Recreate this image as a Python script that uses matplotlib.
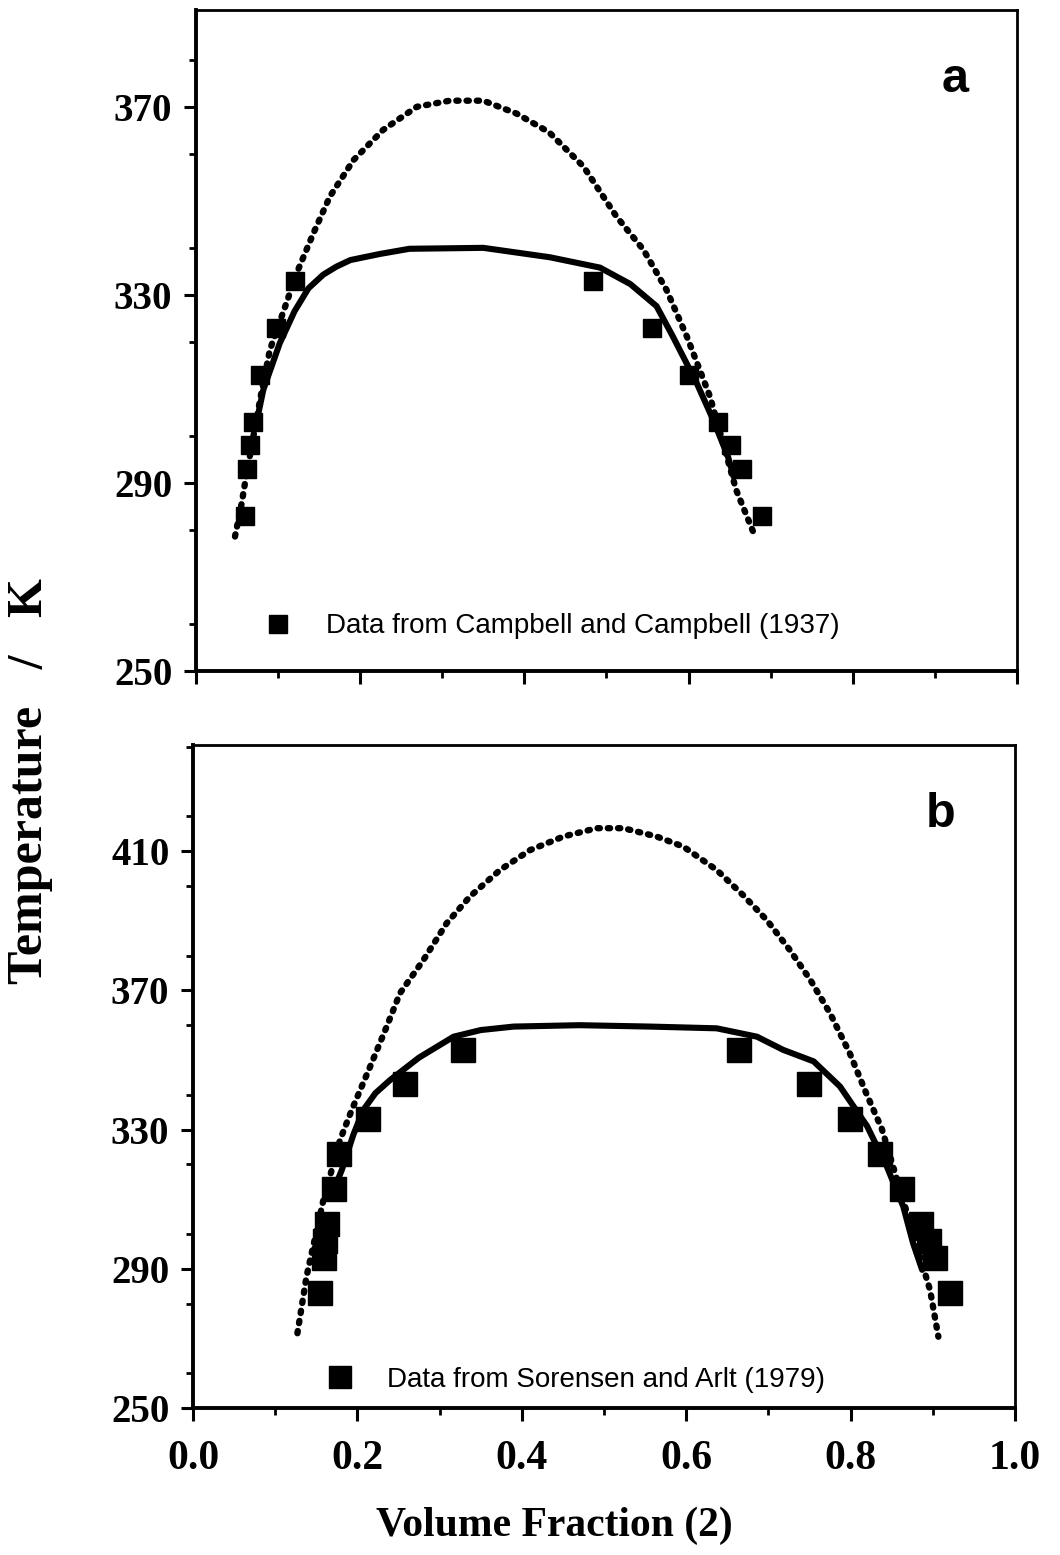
import matplotlib
matplotlib.use("Agg")
import matplotlib.pyplot as plt
from matplotlib.ticker import MultipleLocator

# -----------------------------
# data
# -----------------------------
# panel a: Campbell and Campbell (1937)
temps_a = [283, 293, 298, 303, 313, 323, 333]
phi_a_left = [0.060, 0.062, 0.066, 0.069, 0.078, 0.098, 0.121]
phi_a_right = [0.689, 0.665, 0.652, 0.636, 0.601, 0.555, 0.483]

dot_a_x = [0.0475, 0.0557, 0.0597, 0.070, 0.080, 0.090, 0.110, 0.1226, 0.143, 0.163,
           0.192, 0.228, 0.269, 0.309, 0.350, 0.390, 0.430, 0.472, 0.512, 0.545,
           0.573, 0.598, 0.626, 0.658, 0.681]
dot_a_T = [278.6, 285.7, 290.0, 300.0, 309.5, 318.3, 328.2, 334.6, 343.1, 350.9,
           358.7, 365.1, 370.0, 371.3, 371.3, 368.6, 364.6, 357.3, 346.7, 339.6,
           331.1, 321.1, 308.4, 288.5, 278.6]

sol_a_x = [0.076, 0.082, 0.102, 0.120, 0.137, 0.155, 0.171, 0.188, 0.224, 0.260,
           0.350, 0.431, 0.492, 0.529, 0.561, 0.581, 0.610, 0.630, 0.648, 0.655]
sol_a_T = [304.8, 309.8, 319.7, 326.5, 331.4, 334.3, 336.0, 337.4, 338.7, 339.8,
           340.0, 338.0, 335.8, 332.3, 327.6, 321.1, 311.2, 303.4, 295.6, 291.3]

# panel b: Sorensen and Arlt (1979)
temps_b = [283, 293, 298, 303, 313, 323, 333, 343, 353]
phi_b_left = [0.154, 0.159, 0.161, 0.163, 0.171, 0.177, 0.213, 0.258, 0.329]
phi_b_right = [0.921, 0.903, 0.895, 0.886, 0.862, 0.836, 0.799, 0.749, 0.664]

dot_b_x = [0.127, 0.138, 0.1586, 0.1788, 0.193, 0.2153, 0.2356, 0.2518, 0.2802, 0.3086,
           0.337, 0.3735, 0.410, 0.4505, 0.491, 0.5235, 0.564, 0.5965, 0.637, 0.669,
           0.698, 0.726, 0.751, 0.775, 0.799, 0.819, 0.8378, 0.8966, 0.9067]
dot_b_T = [271.5, 287.7, 309.8, 327.0, 335.6, 348.0, 359.6, 369.2, 378.7, 389.3,
           397.0, 404.6, 410.3, 414.2, 416.6, 416.6, 414.2, 411.3, 404.6, 397.4,
           390.2, 381.6, 373.0, 363.4, 351.9, 340.4, 330.3, 283.9, 270.5]

sol_b_x = [0.170, 0.181, 0.195, 0.207, 0.222, 0.240, 0.275, 0.317, 0.350, 0.390,
           0.470, 0.556, 0.637, 0.686, 0.718, 0.755, 0.787, 0.820, 0.844, 0.864,
           0.876, 0.887]
sol_b_T = [312.0, 318.4, 328.5, 335.6, 340.5, 344.3, 350.7, 356.7, 358.6, 359.6,
           360.0, 359.6, 359.1, 356.7, 352.9, 349.6, 342.4, 331.0, 319.4, 307.9,
           297.3, 289.7]

x_ticks = [0.0, 0.2, 0.4, 0.6, 0.8, 1.0]
x_tick_labels = ["0.0", "0.2", "0.4", "0.6", "0.8", "1.0"]

# -----------------------------
# figure
# -----------------------------
SERIF = "Liberation Serif"
SANS = "Liberation Sans"

fig = plt.figure(figsize=(10.6, 15.55), dpi=100)
ax_a = fig.add_axes([0.1849, 0.5685, 0.7745, 0.4251])
ax_b = fig.add_axes([0.1821, 0.0945, 0.7755, 0.4264])


def style_axes(ax, ylim, yticks, show_xlabels):
    ax.set_xlim(0, 1)
    ax.set_ylim(*ylim)
    ax.set_yticks(yticks)
    ax.yaxis.set_minor_locator(MultipleLocator(20))
    ax.set_xticks(x_ticks)
    ax.xaxis.set_minor_locator(MultipleLocator(0.1))
    for s in ax.spines.values():
        s.set_linewidth(2.0)
    ax.spines["left"].set_linewidth(2.8)
    ax.spines["bottom"].set_linewidth(2.8)
    ax.tick_params(which="major", direction="out", length=9, width=2.2,
                   left=True, bottom=True, top=False, right=False)
    ax.tick_params(which="minor", direction="out", length=5, width=2.0,
                   left=True, bottom=True, top=False, right=False)
    ax.tick_params(axis="y", pad=8)
    ax.tick_params(axis="x", pad=14)
    ax.set_yticklabels([str(t) for t in yticks], fontfamily=SERIF,
                       fontweight="bold", fontsize=28)
    if show_xlabels:
        ax.set_xticklabels(x_tick_labels, fontfamily=SERIF,
                           fontweight="bold", fontsize=30)
    else:
        ax.set_xticklabels([])


dot_style = dict(color="black", lw=4.6, linestyle=(0, (0.35, 1.25)),
                 dash_capstyle="round")
sol_style = dict(color="black", lw=4.4, solid_capstyle="round",
                 solid_joinstyle="round")

# panel a
ax_a.plot(dot_a_x, dot_a_T, **dot_style)
ax_a.plot(sol_a_x, sol_a_T, **sol_style)
ax_a.plot(phi_a_left + phi_a_right, temps_a + temps_a, "s", color="black",
          ms=13, linestyle="none",
          label="Data from Campbell and Campbell (1937)")
style_axes(ax_a, (250, 390.6), [250, 290, 330, 370], False)
ax_a.legend(loc="lower left", bbox_to_anchor=(0.053, 0.01), frameon=False,
            handlelength=1.0, handletextpad=1.2, markerscale=0.95,
            prop={"family": SANS, "size": 20})
ax_a.text(0.925, 0.895, "a", transform=ax_a.transAxes, fontfamily=SANS,
          fontweight="bold", fontsize=35, ha="center", va="center")

# panel b
ax_b.plot(dot_b_x, dot_b_T, **dot_style)
ax_b.plot(sol_b_x, sol_b_T, **sol_style)
ax_b.plot(phi_b_left + phi_b_right, temps_b + temps_b, "s", color="black",
          ms=17, linestyle="none",
          label="Data from Sorensen and Arlt (1979)")
style_axes(ax_b, (250, 440.5), [250, 290, 330, 370, 410], True)
ax_b.legend(loc="lower left", bbox_to_anchor=(0.131, -0.015), frameon=False,
            handlelength=1.0, handletextpad=1.2, markerscale=0.95,
            prop={"family": SANS, "size": 20})
ax_b.text(0.91, 0.895, "b", transform=ax_b.transAxes, fontfamily=SANS,
          fontweight="bold", fontsize=35, ha="center", va="center")

# shared axis titles
fig.text(0.028, 0.498, "Temperature   /   K", rotation=90, ha="center",
         va="center", fontfamily=SERIF, fontweight="bold", fontsize=36)
fig.text(0.523, 0.019, "Volume Fraction (2)", ha="center", va="center",
         fontfamily=SERIF, fontweight="bold", fontsize=30)

fig.savefig("out.png", dpi=100)
